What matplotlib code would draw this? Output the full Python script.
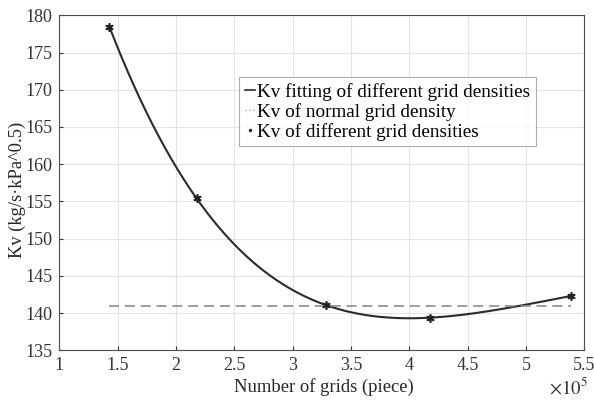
import numpy as np
import matplotlib.pyplot as plt

plt.rcParams['font.family'] = ['Liberation Serif', 'DejaVu Serif']
plt.rcParams['mathtext.fontset'] = 'stix'

grids = [1.43, 2.177, 3.29, 4.175, 5.385]   # x 10^5
kv = [178.45, 155.4, 141.05, 139.38, 142.3]
kv_normal = 141.0

coef = np.polyfit(grids, kv, 4)
xs = np.linspace(grids[0], grids[-1], 300)
ys = np.polyval(coef, xs)

fig = plt.figure(figsize=(5.94, 4.01), dpi=100)
ax = fig.add_axes([0.0998, 0.1264, 0.8839, 0.8354])

ax.plot(xs, ys, color='#2b2b2b', lw=1.5)
ax.plot([grids[0], grids[-1]], [kv_normal, kv_normal], color='#8c8c8c', lw=1.2,
        dashes=(6, 3.5))
ax.plot(grids, kv, ls='none', marker=(6, 2, 0), color='#222222', ms=6, mew=1.2)

ax.set_xlim(1, 5.5)
ax.set_ylim(135, 180)
ax.set_xticks(np.arange(1, 5.51, 0.5))
ax.set_xticklabels(['1', '1.5', '2', '2.5', '3', '3.5', '4', '4.5', '5', '5.5'])
ax.set_yticks(np.arange(135, 181, 5))
ax.grid(True, color='#e3e3e3', lw=0.8)
ax.set_axisbelow(True)
ax.tick_params(direction='in', labelsize=13, colors='#333333', length=3, pad=5)
for s in ax.spines.values():
    s.set_color('#4d4d4d')
    s.set_linewidth(0.8)

ax.set_xlabel('Number of grids (piece)', fontsize=13.4, color='#262626')
ax.xaxis.set_label_coords(0.504, -0.083)
ax.set_ylabel('Kv (kg/s·kPa^0.5)', fontsize=13.3, color='#262626')
ax.yaxis.set_label_coords(-0.064, 0.478)
ax.text(1.006, -0.078, r'$\times10^5$', transform=ax.transAxes, fontsize=13.5,
        ha='right', va='top', color='#333333')

h = [plt.Line2D([], [], color='#2b2b2b', lw=1.2),
     plt.Line2D([], [], color='#aaaaaa', lw=1.0, ls=':'),
     plt.Line2D([], [], ls='none', marker='.', color='#222222', ms=3)]
l = ['Kv fitting of different grid densities', 'Kv of normal grid density',
     'Kv of different grid densities']
leg = ax.legend(h, l, loc='upper left', bbox_to_anchor=(0.342, 0.815), fontsize=13.8,
                frameon=True, fancybox=False, edgecolor='#999999', handlelength=0.55,
                handletextpad=0.1, borderpad=0.3, labelspacing=0.1, borderaxespad=0)
leg.get_frame().set_linewidth(0.8)

fig.savefig('out.png', dpi=100)
